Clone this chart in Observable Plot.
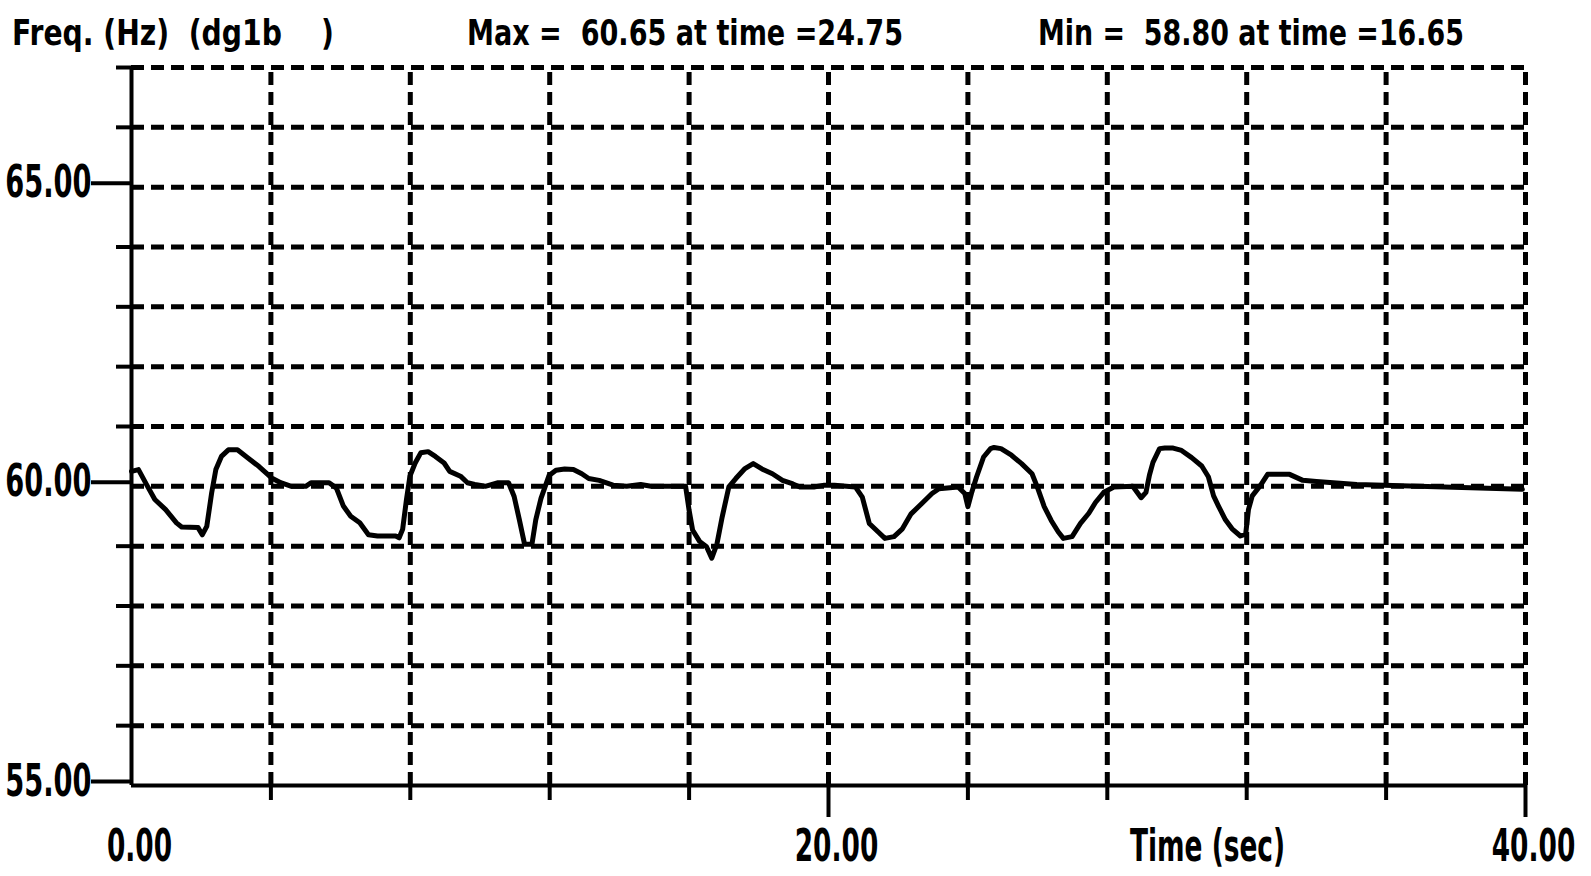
<!DOCTYPE html>
<html>
<head>
<meta charset="utf-8">
<script src="https://cdn.jsdelivr.net/npm/d3@7"></script>
<script src="https://cdn.jsdelivr.net/npm/@observablehq/plot@0.6"></script>
<style>
  html, body { margin: 0; padding: 0; background: #fff; }
  #wrap { position: relative; width: 1591px; height: 876px; overflow: hidden; }
  #header { position: relative; height: 50px; font-family: "DejaVu Sans", sans-serif; font-weight: bold; font-size: 36px; color: #000; }
  #header span { position: absolute; top: 15px; white-space: pre; line-height: 1; display: inline-block; transform-origin: 0 50%; }
  #chart svg { display: block; }
</style>
</head>
<body>
<div id="wrap">
  <div id="header">
    <span id="t1" style="left:12px" data-w="322">Freq. (Hz)  (dg1b    )</span>
    <span id="t2" style="left:467px" data-w="436">Max =  60.65 at time =24.75</span>
    <span id="t3" style="left:1038px" data-w="426">Min =  58.80 at time =16.65</span>
  </div>
  <div id="chart"></div>
</div>
<script>
// Time (sec) and frequency (Hz)
const time = [0, 0.2, 0.46, 0.67, 0.98, 1.29, 1.44, 1.91, 2.03, 2.16, 2.3, 2.42, 2.58, 2.78, 3.04, 3.35, 3.66, 4.02, 4.28, 4.59, 5.0, 5.15, 5.67, 5.88, 6.08, 6.29, 6.55, 6.8, 7.06, 7.58, 7.68, 7.78, 7.89, 7.99, 8.14, 8.3, 8.51, 8.72, 8.97, 9.13, 9.44, 9.64, 9.85, 10.15, 10.52, 10.82, 10.98, 11.13, 11.28, 11.49, 11.6, 11.75, 11.98, 12.18, 12.43, 12.68, 12.92, 13.12, 13.42, 13.82, 14.21, 14.61, 14.91, 15.9, 16.0, 16.1, 16.3, 16.5, 16.65, 16.8, 16.95, 17.14, 17.34, 17.59, 17.84, 18.09, 18.39, 18.68, 18.98, 19.18, 19.58, 19.88, 20.17, 20.77, 20.97, 21.17, 21.42, 21.62, 21.88, 22.12, 22.37, 22.67, 22.97, 23.17, 23.72, 23.91, 24.0, 24.1, 24.25, 24.45, 24.65, 24.75, 24.95, 25.25, 25.54, 25.84, 25.99, 26.19, 26.39, 26.59, 26.74, 26.99, 27.23, 27.47, 27.66, 27.9, 28.19, 28.73, 28.97, 29.11, 29.21, 29.31, 29.5, 29.65, 29.89, 30.13, 30.42, 30.71, 30.9, 31.05, 31.19, 31.39, 31.58, 31.82, 31.97, 32.05, 32.16, 32.4, 32.6, 33.23, 33.61, 34.0, 35.16, 35.94, 39.91];
const freq = [60.25, 60.28, 60.0, 59.78, 59.61, 59.39, 59.32, 59.31, 59.19, 59.33, 59.89, 60.28, 60.5, 60.61, 60.61, 60.47, 60.33, 60.14, 60.06, 60.0, 60.0, 60.06, 60.06, 59.97, 59.67, 59.5, 59.39, 59.19, 59.17, 59.17, 59.14, 59.28, 59.78, 60.17, 60.39, 60.56, 60.58, 60.5, 60.39, 60.25, 60.17, 60.06, 60.03, 60.0, 60.06, 60.06, 59.83, 59.44, 59.03, 59.03, 59.44, 59.8, 60.18, 60.27, 60.29, 60.28, 60.21, 60.13, 60.1, 60.02, 60.0, 60.03, 60.0, 60.0, 59.6, 59.27, 59.08, 58.99, 58.8, 59.04, 59.49, 59.99, 60.13, 60.29, 60.38, 60.29, 60.21, 60.1, 60.04, 59.99, 59.99, 60.02, 60.02, 59.99, 59.82, 59.38, 59.24, 59.13, 59.16, 59.29, 59.54, 59.71, 59.88, 59.96, 59.99, 59.88, 59.66, 59.88, 60.16, 60.49, 60.63, 60.65, 60.63, 60.52, 60.38, 60.21, 59.99, 59.66, 59.43, 59.24, 59.13, 59.16, 59.38, 59.55, 59.73, 59.9, 59.99, 60.0, 59.81, 59.9, 60.19, 60.4, 60.63, 60.64, 60.64, 60.6, 60.48, 60.34, 60.16, 59.84, 59.67, 59.44, 59.29, 59.17, 59.2, 59.61, 59.84, 60.02, 60.2, 60.2, 60.1, 60.08, 60.03, 60.02, 59.95];

const yGrid = [56, 57, 58, 59, 60, 61, 62, 63, 64, 65, 66, 67];
const yMinorTicks = [56, 57, 58, 59, 61, 62, 63, 64, 66, 67];
const yMajorTicks = [55, 60, 65];
const xGrid = [4, 8, 12, 16, 20, 24, 28, 32, 36, 40];
const xMinorTicks = [4, 8, 12, 16, 24, 28, 32, 36];
const xMajorTicks = [20, 40];
const xLabelTicks = [0, 20, 40];
const xLabel = "Time (sec)";

const data = time.map((t, i) => ({t, f: freq[i]}));
const dash = "13,7";
const fontFamily = '"DejaVu Sans", sans-serif';

const chart = Plot.plot({
  width: 1591,
  height: 826,
  marginTop: 17,
  marginBottom: 91,
  marginLeft: 131,
  marginRight: 66,
  style: {fontFamily, fontWeight: "bold", background: "#fff", color: "#000"},
  x: {domain: [0, 40]},
  y: {domain: [55, 67]},
  marks: [
    Plot.ruleY(yGrid, {x1: 0, x2: 40, stroke: "#000", strokeWidth: 5, strokeDasharray: dash}),
    Plot.ruleX(xGrid, {y1: 55, y2: 67, stroke: "#000", strokeWidth: 5, strokeDasharray: dash}),
    Plot.ruleX([0], {y1: 55, y2: 67, stroke: "#000", strokeWidth: 4}),
    Plot.ruleY([55], {x1: 0, x2: 40, stroke: "#000", strokeWidth: 4}),
    Plot.axisY({ticks: yMinorTicks, tickSize: 15, tickFormat: () => "", strokeWidth: 4, label: null}),
    Plot.axisY({ticks: yMajorTicks, tickSize: 40, tickPadding: 0, strokeWidth: 4, label: null,
      tickFormat: d => d.toFixed(2), fontSize: 44, dy: -4, className: "ylab"}),
    Plot.axisX({ticks: xMinorTicks, tickSize: 15, tickFormat: () => "", strokeWidth: 4, label: null}),
    Plot.axisX({ticks: xMajorTicks, tickSize: 32, tickFormat: () => "", strokeWidth: 4, label: null}),
    Plot.axisX({ticks: xLabelTicks, tickSize: 0, tickPadding: 44, label: null,
      tickFormat: d => d.toFixed(2), fontSize: 44, dx: 8, className: "xlab"}),
    Plot.text([xLabel], {frameAnchor: "bottom-right", dx: -318, dy: 44, fontSize: 44, fontWeight: "bold",
      textAnchor: "middle", lineAnchor: "top", className: "xlab"}),
    Plot.line(data, {x: "t", y: "f", stroke: "#000", strokeWidth: 5, strokeLinejoin: "round"})
  ]
});
document.getElementById("chart").appendChild(chart);

// condense the bold glyphs to mimic the narrow display font of the original
function condense(selector, k) {
  chart.querySelectorAll(selector).forEach(t => {
    const len = t.getComputedTextLength();
    if (len > 0) {
      t.setAttribute("textLength", (len * k).toFixed(1));
      t.setAttribute("lengthAdjust", "spacingAndGlyphs");
    }
  });
}
condense(".ylab text", 0.62);
condense(".xlab text", 0.6);

document.querySelectorAll("#header span").forEach(s => {
  const w = s.getBoundingClientRect().width;
  const target = +s.dataset.w;
  s.style.transform = `scaleX(${(target / w).toFixed(4)})`;
});
</script>
</body>
</html>
